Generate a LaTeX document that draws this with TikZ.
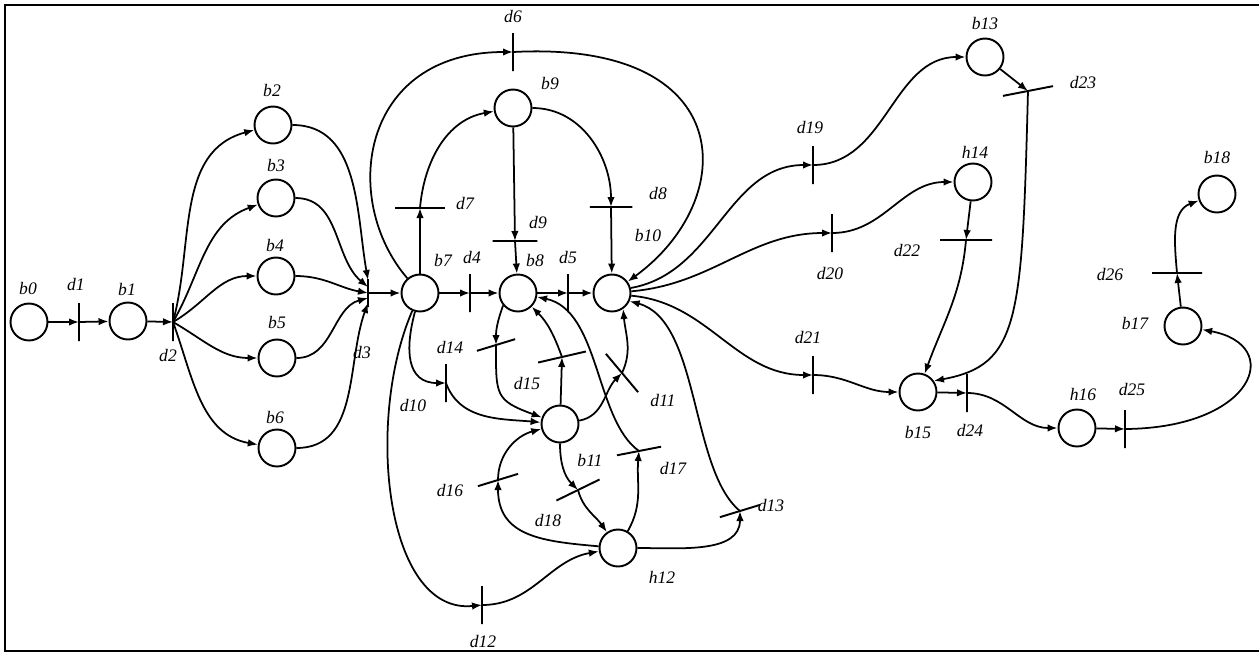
\documentclass[tikz,border=0pt]{standalone}
\usepackage{fontspec}
\setmainfont{Liberation Serif}
\usetikzlibrary{arrows.meta,calc}

\begin{document}
\begin{tikzpicture}[
	x=0.02cm, y=0.02cm,
	place/.style={circle, draw=black, line width=1.1pt, minimum size=0.74cm, inner sep=0pt},
	bar/.style={draw=black, line width=1.1pt, inner sep=0pt, minimum height=0pt, minimum width=0.9cm},
	vbar/.style={bar, minimum width=0.76cm, rotate=90},
	lbl/.style={font=\normalsize\itshape, inner sep=1pt},
	arr/.style={-{Latex[length=2mm, width=1.5mm]}, line width=1pt}
	]
	\useasboundingbox (0,0) rectangle (1259,-653);
	\draw[line width=1.3pt] (1259,-5) -- (5,-5) -- (5,-651) -- (1259,-651);

	\node[place] (b0) at (29,-322) {};
	\node[place] (b1) at (128,-321) {};
	\node[place] (b2) at (273,-125) {};
	\node[place] (b3) at (276,-198) {};
	\node[place] (b4) at (276,-276) {};
	\node[place] (b5) at (277,-358) {};
	\node[place] (b6) at (277,-448) {};
	\node[place] (b7) at (420,-293) {};
	\node[place] (b8) at (518,-293) {};
	\node[place] (b9) at (513,-108) {};
	\node[place] (b10) at (612,-293) {};
	\node[place] (b11) at (560,-424) {};
	\node[place] (b12) at (618,-548) {};
	\node[place] (b13) at (985,-57) {};
	\node[place] (b14) at (973,-182) {};
	\node[place] (b15) at (918,-392) {};
	\node[place] (b16) at (1077,-428) {};
	\node[place] (b17) at (1183,-326) {};
	\node[place] (b18) at (1217,-194) {};

	\node[vbar] (d1) at (79,-322) {};
	\node[vbar] (d2) at (173,-322) {};
	\node[vbar, minimum width=0.56cm] (d3) at (368,-293) {};
	\node[vbar] (d4) at (470,-293) {};
	\node[vbar] (d5) at (568,-293) {};
	\node[vbar] (d6) at (513,-52) {};
	\node[bar, minimum width=1cm] (d7) at (420,-208) {};
	\node[bar, minimum width=0.85cm] (d8) at (611,-207) {};
	\node[bar] (d9) at (515,-241) {};
	\node[vbar] (d10) at (446,-383) {};
	\node[bar, rotate=-50, minimum width=1cm] (d11) at (622,-373) {};
	\node[vbar] (d12) at (482,-605) {};
	\node[bar, rotate=17, minimum width=0.84cm] (d13) at (740,-511) {};
	\node[bar, rotate=17, minimum width=0.8cm] (d14) at (496,-345) {};
	\node[bar, rotate=13, minimum width=0.98cm] (d15) at (562,-357) {};
	\node[bar, rotate=17, minimum width=0.84cm] (d16) at (498,-480) {};
	\node[bar, rotate=11] (d17) at (639,-451) {};
	\node[bar, rotate=26, minimum width=0.96cm] (d18) at (578,-490) {};
	\node[vbar] (d19) at (813,-165) {};
	\node[vbar] (d20) at (832,-233) {};
	\node[vbar] (d21) at (813,-375) {};
	\node[bar, minimum width=1.04cm] (d22) at (966,-240) {};
	\node[bar, rotate=11, minimum width=1.02cm] (d23) at (1028,-91) {};
	\node[vbar] (d24) at (967,-393) {};
	\node[vbar] (d25) at (1125,-429) {};
	\node[bar, minimum width=1cm] (d26) at (1177,-273) {};

	\node[lbl] (lb0) at (28,-288) {b0};
	\node[lbl] (ld1) at (76,-284) {d1};
	\node[lbl] (lb1) at (127,-289) {b1};
	\node[lbl] (ld2) at (168,-355) {d2};
	\node[lbl] (lb2) at (272,-90) {b2};
	\node[lbl] (lb3) at (276,-165) {b3};
	\node[lbl] (lb4) at (275,-245) {b4};
	\node[lbl] (lb5) at (277,-322) {b5};
	\node[lbl] (lb6) at (275,-417) {b6};
	\node[lbl] (ld3) at (362,-352) {d3};
	\node[lbl] (lb7) at (443,-260) {b7};
	\node[lbl] (ld4) at (472,-257) {d4};
	\node[lbl] (lb8) at (535,-260) {b8};
	\node[lbl] (ld5) at (568,-257) {d5};
	\node[lbl] (lb9) at (550,-83) {b9};
	\node[lbl] (ld6) at (513,-16) {d6};
	\node[lbl] (ld7) at (465,-203) {d7};
	\node[lbl] (ld8) at (658,-193) {d8};
	\node[lbl] (ld9) at (538,-222) {d9};
	\node[lbl] (lb10) at (648,-235) {b10};
	\node[lbl] (ld10) at (413,-405) {d10};
	\node[lbl] (ld11) at (663,-400) {d11};
	\node[lbl] (ld12) at (483,-641) {d12};
	\node[lbl] (ld13) at (771,-505) {d13};
	\node[lbl] (ld14) at (450,-347) {d14};
	\node[lbl] (ld15) at (527,-383) {d15};
	\node[lbl] (ld16) at (450,-490) {d16};
	\node[lbl] (ld17) at (673,-468) {d17};
	\node[lbl] (ld18) at (548,-520) {d18};
	\node[lbl] (lb11) at (590,-460) {b11};
	\node[lbl] (lb12) at (662,-577) {h12};
	\node[lbl] (lb13) at (985,-23) {b13};
	\node[lbl] (ld19) at (810,-127) {d19};
	\node[lbl] (lb14) at (975,-152) {h14};
	\node[lbl] (ld20) at (830,-273) {d20};
	\node[lbl] (ld21) at (808,-337) {d21};
	\node[lbl] (ld22) at (907,-250) {d22};
	\node[lbl] (ld23) at (1083,-82) {d23};
	\node[lbl] (lb15) at (918,-432) {b15};
	\node[lbl] (ld24) at (970,-430) {d24};
	\node[lbl] (lb16) at (1083,-394) {h16};
	\node[lbl] (ld25) at (1132,-389) {d25};
	\node[lbl] (lb17) at (1135,-323) {b17};
	\node[lbl] (ld26) at (1110,-274) {d26};
	\node[lbl] (lb18) at (1217,-157) {b18};

	\draw[arr] (b0) -- (d1.center);
	\draw[arr] (d1.center) -- (b1);
	\draw[arr] (b1) -- (d2.center);
	\draw[arr] (d2.center) to[out=75, in=195] (b2);
	\draw[arr] (d2.center) to[out=60, in=200] (b3);
	\draw[arr] (d2.center) to[out=30, in=180] (b4);
	\draw[arr] (d2.center) to[out=-30, in=180] (b5);
	\draw[arr] (d2.center) to[out=-70, in=170] (b6);
	\draw[arr] (b2) to[out=0, in=100] ($(d3.center)+(0,13)$);
	\draw[arr] (b3) to[out=0, in=140] ($(d3.center)+(0,6)$);
	\draw[arr] (b4) to[out=0, in=170] (d3.center);
	\draw[arr] (b5) to[out=0, in=195] ($(d3.center)+(0,-5)$);
	\draw[arr] (b6) to[out=0, in=250] ($(d3.center)+(0,-10)$);
	\draw[arr] (d3.center) -- (b7);

	\draw[arr] (b7) -- (d4.center);
	\draw[arr] (d4.center) -- (b8);
	\draw[arr] (b8) -- (d5.center);
	\draw[arr] (d5.center) -- (b10);
	\draw[arr] (b7) -- (d7.center);
	\draw[arr] (d7.center) to[out=85, in=190] (b9);
	\draw[arr] (b7) .. controls (340,-200) and (360,-52) .. (d6.center);
	\draw[arr] (d6.center) .. controls (740,-40) and (740,-200) .. (b10);
	\draw[arr] (b9) -- (d9.center);
	\draw[arr] (d9.center) -- (b8);
	\draw[arr] (b9) to[out=0, in=90] (d8.center);
	\draw[arr] (d8.center) -- (b10);

	\draw[arr] (b7) to[out=-105, in=180, looseness=1.3] (d10.center);
	\draw[arr] (d10.center) to[out=-70, in=175] (b11);
	\draw[arr] (b7) .. controls (365,-420) and (385,-615) .. (d12.center);
	\draw[arr] (d12.center) to[out=0, in=190] (b12);
	\draw[arr] (b8.-140) to[out=-110, in=90] (d14.center);
	\draw[arr] (d14.center) to[out=-90, in=160, looseness=1.5] (b11);
	\draw[arr] (b11) -- (d15.center);
	\draw[arr] (d15.center) to[out=110, in=-45] (b8);
	\draw[arr] (b11) to[out=10, in=-135] (d11.center);
	\draw[arr] (d11.center) to[out=65, in=-85] (b10.-55);
	\draw[arr] (b11) to[out=-90, in=135] (d18.center);
	\draw[arr] (d18.center) to[out=-75, in=125] (b12);
	\draw[arr] (b12) to[out=175, in=-90, looseness=1.2] (d16.center);
	\draw[arr] (d16.center) to[out=90, in=195] (b11);
	\draw[arr] (b12) to[out=60, in=-95] (d17.center);
	\draw[arr] (d17.center) .. controls (595,-420) and (600,-310) .. (b8);
	\draw[arr] (b12) to[out=0, in=-90] (d13.center);
	\draw[arr] (d13.center) .. controls (690,-470) and (700,-320) .. (b10.-25);

	\draw[arr] (b10.15) to[out=10, in=180] (d19.center);
	\draw[arr] (d19.center) to[out=0, in=180] (b13);
	\draw[arr] (b10.5) to[out=5, in=180] (d20.center);
	\draw[arr] (d20.center) to[out=0, in=180] (b14);
	\draw[arr] (b10.-8) to[out=-5, in=180] (d21.center);
	\draw[arr] (d21.center) to[out=0, in=180] (b15);
	\draw[arr] (b14) -- (d22.center);
	\draw[arr] (d22.center) to[out=-95, in=70] (b15);
	\draw[arr] (b13) -- (d23.center);
	\draw[arr] (d23.center) .. controls (1022,-320) and (1020,-365) .. (b15.35);
	\draw[arr] (b15) -- (d24.center);
	\draw[arr] (d24.center) to[out=0, in=180] (b16);
	\draw[arr] (b16) -- (d25.center);
	\draw[arr] (d25.center) .. controls (1255,-428) and (1285,-345) .. (b17);
	\draw[arr] (b17) -- (d26.center);
	\draw[arr] (d26.center) to[out=95, in=200] (b18);
\end{tikzpicture}
\end{document}
